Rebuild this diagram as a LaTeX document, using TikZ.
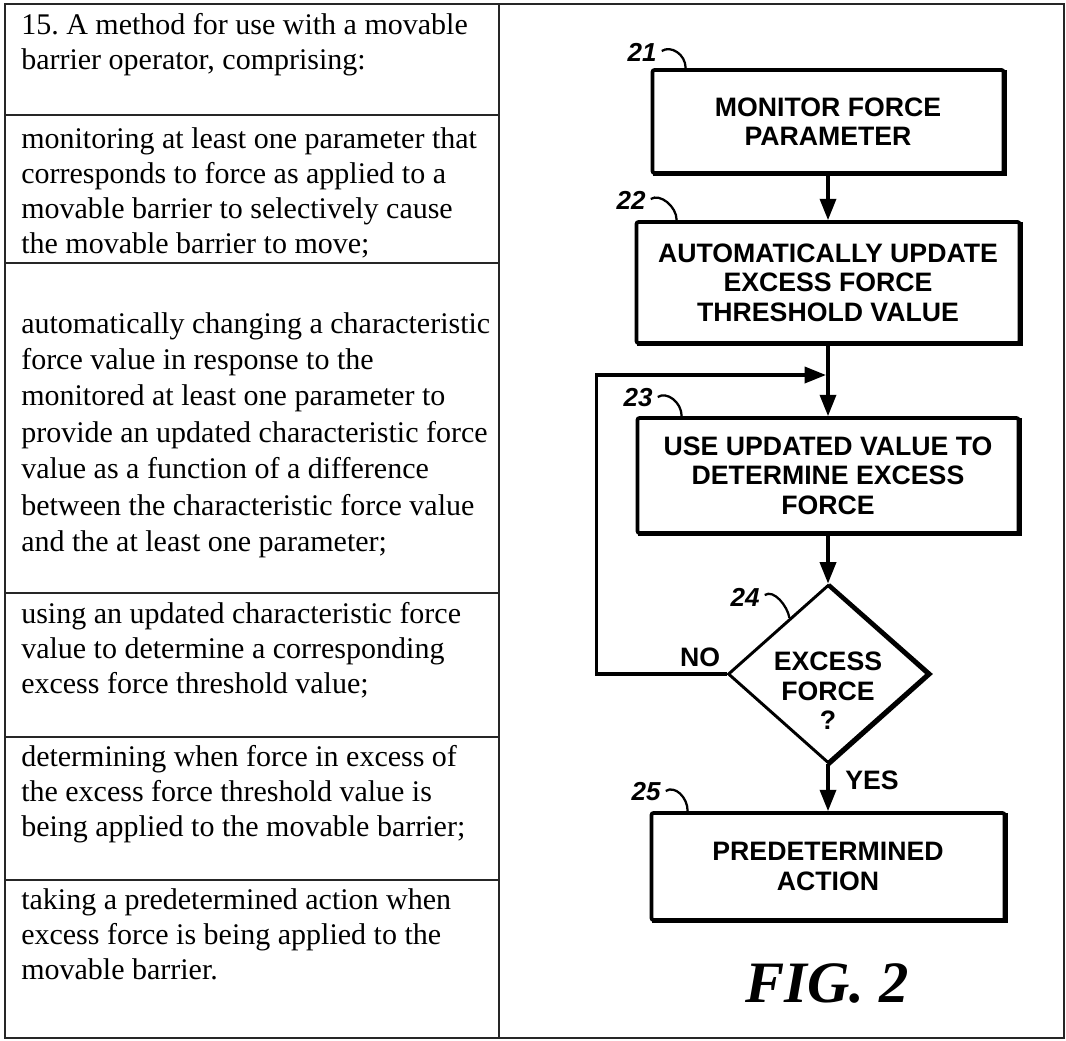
\documentclass[tikz,border=0pt]{standalone}
\usepackage{fontspec}
\setmainfont{Liberation Serif}
\newfontfamily\flowfont{Liberation Sans Bold}
\newfontfamily\reffont{Liberation Sans Bold Italic}
\usetikzlibrary{shapes.geometric,arrows.meta,calc}
\frenchspacing

% heavier lower-right edge of a box
\newcommand\heavyedge[1]{%
  \draw[line width=2pt] ($(#1.north east)+(0,2)$) -- (#1.south east) -- ($(#1.south west)+(2,0)$);}

\begin{document}
\begin{tikzpicture}[x=0.75pt,y=-0.75pt,
  rule/.style={line width=1.1pt, black!85},
  claim/.style={anchor=north west, inner sep=0pt, align=left,
    font=\fontsize{22.5}{26.25}\selectfont},
  stepbox/.style={draw, line width=2.8pt, rounded corners=1.5pt, inner sep=0pt,
    align=center, font=\flowfont\fontsize{20}{22}\selectfont},
  steptext/.style={inner sep=0pt, align=center,
    font=\flowfont\fontsize{20}{22}\selectfont},
  flow/.style={line width=2.6pt, -{Triangle[length=16pt,width=12pt]}},
  ref/.style={inner sep=0pt, font=\reffont\fontsize{19.5}{19.5}\selectfont},
  lead/.style={line width=1.7pt},
  ]
\useasboundingbox (0,0) rectangle (1066,1040);

% ---------- table frame ----------
\draw[rule] (5,4) rectangle (1064,1038);
\draw[rule] (499,4) -- (499,1038);
\foreach \yy in {115,263,593,737,880}
  \draw[rule] (5,\yy) -- (499,\yy);

% ---------- claim text ----------
\node[claim] (c1) at (21,13) {15. A method for use with a movable\\barrier operator, comprising:};
\node[claim] (c2) at (21,127) {monitoring at least one parameter that\\corresponds to force as applied to a\\movable barrier to selectively cause\\the movable barrier to move;};
\node[claim, font=\fontsize{22.5}{27.3}\selectfont] (c3) at (21,312) {automatically changing a characteristic\\force value in response to the\\monitored at least one parameter to\\provide an updated characteristic force\\value as a function of a difference\\between the characteristic force value\\and the at least one parameter;};
\node[claim] (c4) at (21,602) {using an updated characteristic force\\value to determine a corresponding\\excess force threshold value;};
\node[claim] (c5) at (21,745) {determining when force in excess of\\the excess force threshold value is\\being applied to the movable barrier;};
\node[claim] (c6) at (21,888) {taking a predetermined action when\\excess force is being applied to the\\movable barrier.};

% ---------- flowchart ----------
\node[stepbox, minimum width=263.25pt, minimum height=77.25pt] (b21) at (828,121.5) {MONITOR FORCE\\PARAMETER};
\node[stepbox, minimum width=287.25pt, minimum height=90.75pt] (b22) at (828,282.5) {AUTOMATICALLY UPDATE\\EXCESS FORCE\\THRESHOLD VALUE};
\node[stepbox, minimum width=285.75pt, minimum height=86.25pt] (b23) at (828,475.5) {USE UPDATED VALUE TO\\DETERMINE EXCESS\\FORCE};
\node[draw, diamond, line width=2.2pt, minimum width=150pt, minimum height=133.5pt, inner sep=0pt] (d24) at (828,674) {};
\node[steptext] (q24) at (828,691) {EXCESS\\FORCE\\?};
\node[stepbox, minimum width=264.75pt, minimum height=80.25pt] (b25) at (828,866.5) {PREDETERMINED\\ACTION};

\heavyedge{b21}
\heavyedge{b22}
\heavyedge{b23}
\heavyedge{b25}
\draw[line width=2.4pt] ($(d24.north)+(1,1)$) -- ($(d24.east)+(1,0)$) -- ($(d24.south)+(1,0)$);

\coordinate (join) at (828,375);
\draw[flow] (b21.south) -- (b22.north);
\draw[flow] (b22.south) -- (b23.north);
\draw[flow] (b23.south) -- (d24.north);
\draw[flow] (d24.south) -- (b25.north);
\draw[flow, shorten >=1.5pt] (d24.west) -- ++(-130,0) |- (join);

\node[steptext] (no) at (700,657) {NO};
\node[steptext] (yes) at (872,780) {YES};

% reference numerals with leader hooks
\node[ref] (l21) at (642,52) {21};
\node[ref] (l22) at (631,200) {22};
\node[ref] (l23) at (638,398) {23};
\node[ref] (l24) at (745,597) {24};
\node[ref] (l25) at (646,792) {25};
\draw[lead] ($(l21.east)+(5,-1)$) .. controls +(9,-6) and +(0,-14) .. ($(b21.north west)+(35,0)$);
\draw[lead] ($(l22.east)+(5,-1)$) .. controls +(9,-6) and +(0,-14) .. ($(b22.north west)+(42,0)$);
\draw[lead] ($(l23.east)+(5,-1)$) .. controls +(9,-6) and +(0,-14) .. ($(b23.north west)+(46,0)$);
\draw[lead] ($(l24.east)+(5,-2)$) .. controls +(9,-6) and +(-2,-12) .. ($(d24.north)!0.38!(d24.west)$);
\draw[lead] ($(l25.east)+(5,-1)$) .. controls +(9,-6) and +(0,-14) .. ($(b25.north west)+(38,0)$);

\node[inner sep=0pt, font=\bfseries\itshape\fontsize{44}{44}\selectfont] (fig) at (827,983) {FIG. 2};
\end{tikzpicture}
\end{document}
